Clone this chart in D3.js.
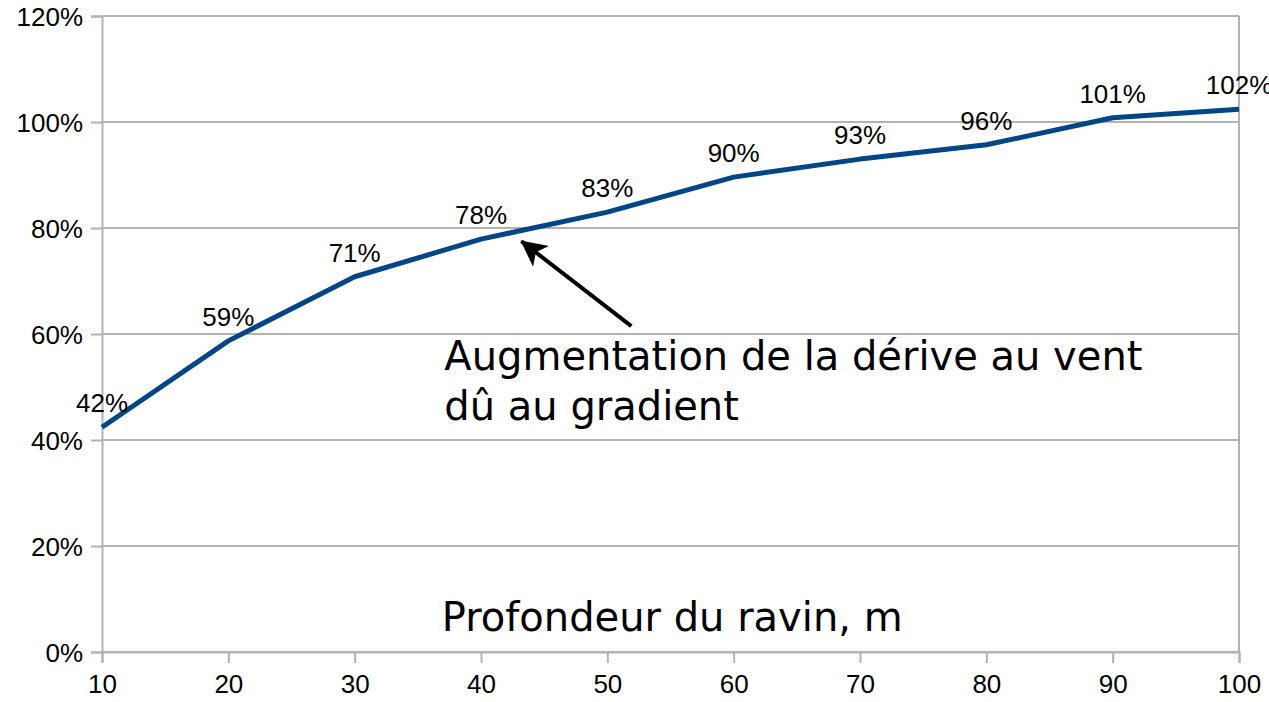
<!DOCTYPE html>
<html>
<head>
<meta charset="utf-8">
<script src="https://cdn.jsdelivr.net/npm/d3@7"></script>
<style>
  body { margin: 0; background: #fff; }
  .tick text { font-family: "Liberation Sans", Arial, sans-serif; font-size: 26px; fill: #000; }
</style>
</head>
<body>
<div id="chart"></div>
<script>
//chart data
var depths = [10, 20, 30, 40, 50, 60, 70, 80, 90, 100];
var drift = [42.4, 58.7, 70.8, 77.9, 83.0, 89.6, 93.0, 95.7, 100.8, 102.4];
var driftLabels = ["42%", "59%", "71%", "78%", "83%", "90%", "93%", "96%", "101%", "102%"];
var yTicks = [0, 20, 40, 60, 80, 100, 120];
var xTitle = "Profondeur du ravin, m";
var noteLines = ["Augmentation de la dérive au vent", "dû au gradient"];

//setting svg dimension
var svgWidth = 1269;
var svgHeight = 702;

var margin = { top: 16, right: 30, bottom: 50, left: 102 };
var chartWidth = 1239 - margin.left;
var chartHeight = 652 - margin.top;

var svg = d3.select("#chart")
  .append("svg")
  .attr("width", svgWidth)
  .attr("height", svgHeight);

var chartGroup = svg.append("g")
  .attr("transform", `translate(${margin.left}, ${margin.top})`);

//scales
var xLinearScale = d3.scaleLinear().domain([10, 100]).range([0, chartWidth]);
var yLinearScale = d3.scaleLinear().domain([0, 120]).range([chartHeight, 0]);

//horizontal grid lines
chartGroup.append("g")
  .selectAll("line")
  .data(yTicks)
  .enter()
  .append("line")
  .attr("x1", 0)
  .attr("x2", chartWidth)
  .attr("y1", d => yLinearScale(d))
  .attr("y2", d => yLinearScale(d))
  .attr("stroke", "#b3b3b3")
  .attr("stroke-width", 2);

//axes
var leftAxis = d3.axisLeft(yLinearScale)
  .tickValues(yTicks)
  .tickFormat(d => d + "%")
  .tickSize(11)
  .tickPadding(8);

var bottomAxis = d3.axisBottom(xLinearScale)
  .tickValues(depths)
  .tickSize(11)
  .tickPadding(12);

var yAxis = chartGroup.append("g").call(leftAxis);
var xAxis = chartGroup.append("g")
  .attr("transform", `translate(0, ${chartHeight})`)
  .call(bottomAxis);

[yAxis, xAxis].forEach(ax => {
  ax.select(".domain").attr("stroke", "#b3b3b3").attr("stroke-width", 2);
  ax.selectAll(".tick line").attr("stroke", "#b3b3b3").attr("stroke-width", 2);
});
yAxis.selectAll(".tick text").attr("dy", "0.36em");

//right border
chartGroup.append("line")
  .attr("x1", chartWidth).attr("x2", chartWidth)
  .attr("y1", 0).attr("y2", chartHeight)
  .attr("stroke", "#b3b3b3")
  .attr("stroke-width", 2);

//data line
var points = depths.map((d, i) => ({ x: d, y: drift[i], label: driftLabels[i] }));

var line = d3.line()
  .x(d => xLinearScale(d.x))
  .y(d => yLinearScale(d.y));

chartGroup.append("path")
  .datum(points)
  .attr("d", line)
  .attr("fill", "none")
  .attr("stroke", "#004586")
  .attr("stroke-width", 5)
  .attr("stroke-linejoin", "round");

//data labels
chartGroup.append("g")
  .selectAll("text")
  .data(points)
  .enter()
  .append("text")
  .attr("x", d => xLinearScale(d.x))
  .attr("y", d => yLinearScale(d.y) - 15)
  .attr("text-anchor", "middle")
  .attr("font-family", "Liberation Sans, Arial, sans-serif")
  .style("font-size", "26px")
  .attr("fill", "#000")
  .text(d => d.label);

//annotation arrow
svg.append("defs").append("marker")
  .attr("id", "arrowhead")
  .attr("viewBox", "0 0 10 10")
  .attr("refX", 9.5)
  .attr("refY", 5)
  .attr("markerWidth", 32)
  .attr("markerHeight", 26)
  .attr("markerUnits", "userSpaceOnUse")
  .attr("orient", "auto")
  .append("path")
  .attr("d", "M0,0 L10,5 L0,10 L2.5,5 Z")
  .attr("fill", "#000");

chartGroup.append("line")
  .attr("x1", xLinearScale(51.9))
  .attr("y1", yLinearScale(61.5))
  .attr("x2", xLinearScale(43.2))
  .attr("y2", yLinearScale(77.5))
  .attr("stroke", "#000")
  .attr("stroke-width", 4)
  .attr("marker-end", "url(#arrowhead)");

//annotation text
var note = chartGroup.append("text")
  .attr("y", yLinearScale(53.2))
  .attr("font-family", "DejaVu Sans, sans-serif")
  .style("font-size", "40px")
  .attr("fill", "#000");

note.selectAll("tspan")
  .data(noteLines)
  .enter()
  .append("tspan")
  .attr("x", xLinearScale(37.1))
  .attr("dy", (d, i) => i === 0 ? 0 : 50)
  .text(d => d);

//x axis title
chartGroup.append("text")
  .attr("x", xLinearScale(36.9))
  .attr("y", chartHeight - 21)
  .attr("font-family", "DejaVu Sans, sans-serif")
  .style("font-size", "40px")
  .attr("fill", "#000")
  .text(xTitle);
</script>
</body>
</html>
